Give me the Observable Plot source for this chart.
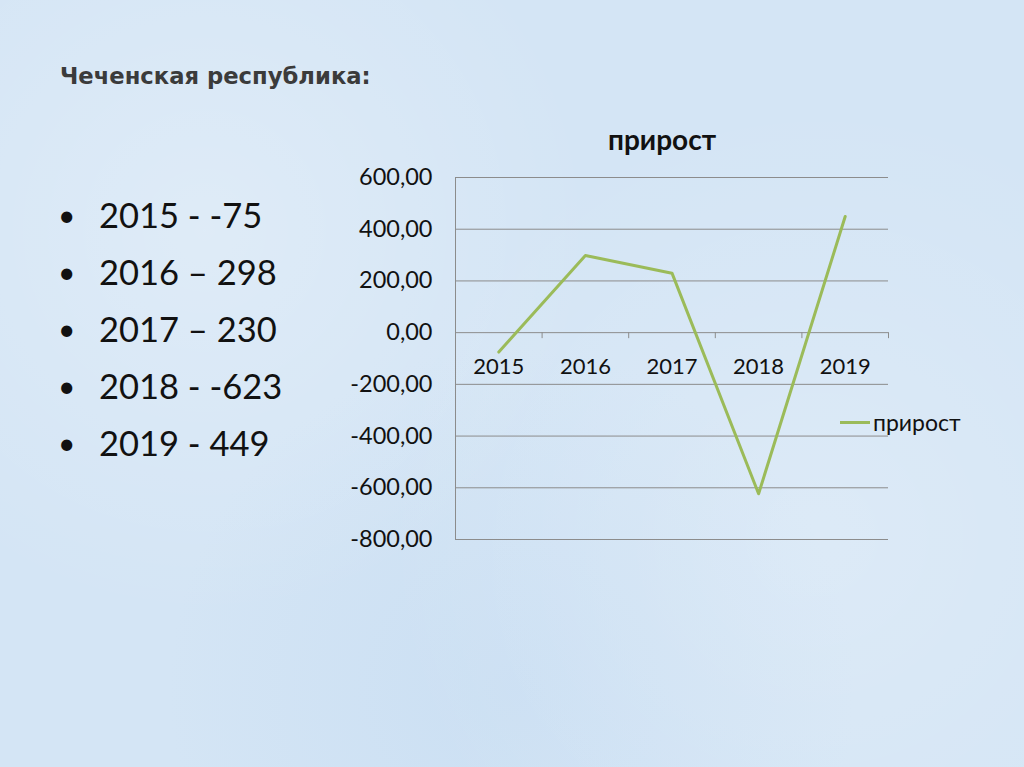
<!DOCTYPE html>
<html>
<head>
<meta charset="utf-8">
<script src="https://cdn.jsdelivr.net/npm/d3@7"></script>
<script src="https://cdn.jsdelivr.net/npm/@observablehq/plot@0.6"></script>
<style>
  html, body { margin: 0; padding: 0; }
  body {
    width: 1024px; height: 767px; overflow: hidden; position: relative;
    background-color: #d4e5f5;
    background-image:
      radial-gradient(circle at 20% 30%, rgba(255,255,255,0.25) 0, rgba(255,255,255,0) 40%),
      radial-gradient(circle at 80% 70%, rgba(255,255,255,0.2) 0, rgba(255,255,255,0) 45%),
      radial-gradient(circle at 50% 90%, rgba(190,215,240,0.4) 0, rgba(190,215,240,0) 40%);
    font-family: Lato, "Open Sans", sans-serif;
  }
  #title { position: absolute; left: 60px; top: 63px; font-family: "DejaVu Sans", sans-serif; font-weight: bold; font-size: 22.7px; color: #3b3b3b; white-space: nowrap; }
  #list { position: absolute; left: 58px; top: 186px; margin: 0; padding: 0; list-style: none; }
  #list li { position: relative; font-size: 34.5px; line-height: 57px; height: 57px; padding-left: 41px; color: #111; white-space: nowrap; }
  #list li::before { content: "•"; position: absolute; left: 0; top: 0; font-size: 30px; }
  #chartTitle { position: absolute; left: 512px; width: 300px; top: 122px; text-align: center; font-weight: bold; font-size: 28px; color: #111; }
  #legend { position: absolute; left: 840px; top: 408px; display: flex; align-items: center; font-size: 23px; color: #111; }
  #legend .sw { width: 30px; height: 3px; background: #9bbb59; margin-right: 3px; }
  #chart { position: absolute; left: 330px; top: 150px; }
</style>
</head>
<body>
<div id="title">Чеченская республика:</div>
<ul id="list"></ul>
<div id="chartTitle">прирост</div>
<div id="legend"><div class="sw"></div><span>прирост</span></div>
<div id="chart"></div>
<script>
const years = [2015, 2016, 2017, 2018, 2019];
const values = [-75, 298, 230, -623, 449];
const listLabels = ["2015 - -75", "2016 – 298", "2017 – 230", "2018 - -623", "2019 - 449"];
const yTicks = [600, 400, 200, 0, -200, -400, -600, -800];
const seriesName = "прирост";

const list = document.getElementById("list");
listLabels.forEach(t => { const li = document.createElement("li"); li.textContent = t; list.appendChild(li); });

const data = years.map((y, i) => ({year: y, value: values[i]}));
const boundaries = years.map(y => y - 0.5).concat([years[years.length - 1] + 0.5]);
const fmt = d => (d < 0 ? "-" : "") + Math.abs(d).toFixed(2).replace(".", ",");

const plot = Plot.plot({
  width: 580,
  height: 410,
  marginLeft: 125,
  marginRight: 22,
  marginTop: 27,
  marginBottom: 21,
  style: {background: "transparent", overflow: "visible", fontFamily: "Lato, 'Open Sans', sans-serif"},
  x: {domain: [years[0] - 0.5, years[years.length - 1] + 0.5], axis: null},
  y: {domain: [-800, 600]},
  marks: [
    Plot.ruleY(yTicks, {stroke: "#8c8c8c", strokeWidth: 1, strokeOpacity: 1}),
    Plot.ruleX([boundaries[0]], {stroke: "#8c8c8c", strokeWidth: 1}),
    Plot.ruleX(boundaries, {y1: 0, y2: 0, insetBottom: -6, stroke: "#8c8c8c", strokeWidth: 1}),
    Plot.axisY({ticks: yTicks, tickSize: 0, tickPadding: 23, tickFormat: fmt, fontSize: 23.5, fill: "#111", label: null}),
    Plot.text(years, {x: d => d, y: 0, dy: 34, text: d => String(d), fontSize: 22, fill: "#111"}),
    Plot.line(data, {x: "year", y: "value", stroke: "#9bbb59", strokeWidth: 3})
  ]
});
document.getElementById("chart").appendChild(plot);
</script>
</body>
</html>
